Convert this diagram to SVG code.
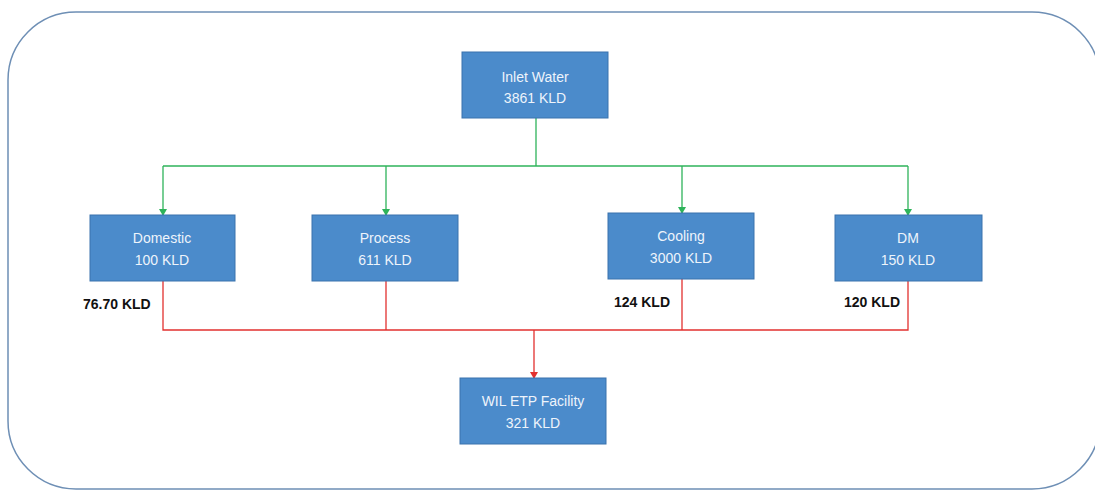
<svg xmlns="http://www.w3.org/2000/svg" width="1095" height="490" viewBox="0 0 1095 490">
<defs>
<style>
.box{fill:#4B8BCB;stroke:#3A73AD;stroke-width:1}
.bt{font-family:"Liberation Sans",Arial,sans-serif;font-size:14px;fill:#EEF4FB;text-anchor:middle}
.lbl{font-family:"Liberation Sans",Arial,sans-serif;font-size:14px;font-weight:bold;fill:#111}
.g{stroke:#2EB35A;stroke-width:1.3;fill:none}
.r{stroke:#E2312F;stroke-width:1.3;fill:none}
</style>
<marker id="ag" markerWidth="8" markerHeight="8" refX="4" refY="7" markerUnits="userSpaceOnUse" viewBox="0 0 8 8"><path d="M0,1 L8,1 L4,8 Z" fill="#2EB35A"/></marker>
<marker id="ar" markerWidth="8" markerHeight="8" refX="4" refY="7" markerUnits="userSpaceOnUse" viewBox="0 0 8 8"><path d="M0,1 L8,1 L4,8 Z" fill="#E2312F"/></marker>
</defs>
<rect x="0" y="0" width="1095" height="490" fill="#fff"/>
<rect x="8" y="12" width="1092" height="477" rx="68" ry="68" fill="#fff" stroke="#6E8FB5" stroke-width="1.5"/>
<g id="connectors">
<path class="g" d="M536,118 V166"/>
<path class="g" d="M163,166 H908"/>
<path class="g" d="M163,166 V215" marker-end="url(#ag)"/>
<path class="g" d="M386,166 V215" marker-end="url(#ag)"/>
<path class="g" d="M682,166 V213" marker-end="url(#ag)"/>
<path class="g" d="M908,166 V215" marker-end="url(#ag)"/>
<path class="r" d="M163,281 V330 H908 V281"/>
<path class="r" d="M386,281 V330"/>
<path class="r" d="M682,279 V330"/>
<path class="r" d="M534,330 V378" marker-end="url(#ar)"/>
</g>
<g id="inlet"><rect class="box" x="462" y="52" width="146" height="66"/><text class="bt" x="535" y="82">Inlet Water</text><text class="bt" x="535" y="103">3861 KLD</text></g>
<g id="domestic"><rect class="box" x="90" y="215" width="145" height="66"/><text class="bt" x="162" y="243">Domestic</text><text class="bt" x="162" y="265">100 KLD</text></g>
<g id="process"><rect class="box" x="312" y="215" width="146" height="66"/><text class="bt" x="385" y="243">Process</text><text class="bt" x="385" y="265">611 KLD</text></g>
<g id="cooling"><rect class="box" x="608" y="213" width="146" height="66"/><text class="bt" x="681" y="241">Cooling</text><text class="bt" x="681" y="263">3000 KLD</text></g>
<g id="dm"><rect class="box" x="835" y="215" width="147" height="66"/><text class="bt" x="908" y="243">DM</text><text class="bt" x="908" y="265">150 KLD</text></g>
<g id="etp"><rect class="box" x="460" y="378" width="146" height="66"/><text class="bt" x="533" y="406">WIL ETP Facility</text><text class="bt" x="533" y="428">321 KLD</text></g>
<g id="labels">
<text class="lbl" x="83" y="309">76.70 KLD</text>
<text class="lbl" x="614" y="307">124 KLD</text>
<text class="lbl" x="844" y="307">120 KLD</text>
</g>
</svg>
